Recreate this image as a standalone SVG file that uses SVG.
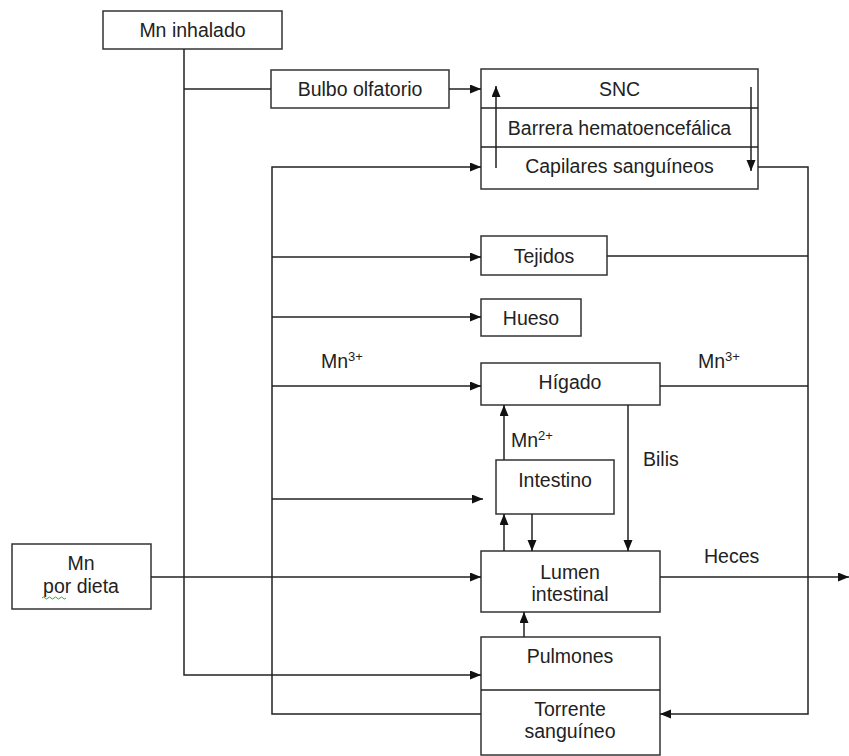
<svg xmlns="http://www.w3.org/2000/svg" width="849" height="756" viewBox="0 0 849 756">
<defs>
<marker id="ah" markerUnits="userSpaceOnUse" markerWidth="12" markerHeight="10" refX="11" refY="4.5" orient="auto">
<path d="M0,0 L11,4.5 L0,9 z" fill="#111"/>
</marker>
<style>
.box{fill:#fff;stroke:#333;stroke-width:1.5}
.ln{fill:none;stroke:#222;stroke-width:1.5}
.ar{fill:none;stroke:#222;stroke-width:1.5;marker-end:url(#ah)}
text{font-family:"Liberation Sans",Arial,sans-serif;font-size:19.5px;fill:#222}
.c{text-anchor:middle}
.sup{font-size:13px}
</style>
</defs>
<rect width="849" height="756" fill="#fff"/>
<g id="mn-inhalado"><rect class="box" x="103" y="11" width="179" height="38"/><text class="c" x="192.5" y="37">Mn inhalado</text></g>
<g id="bulbo"><rect class="box" x="271" y="70" width="178" height="38"/><text class="c" x="360" y="96">Bulbo olfatorio</text></g>
<g id="snc"><rect class="box" x="481" y="69" width="277" height="120"/><path class="ln" d="M481 108 H758 M481 147 H758"/>
<text class="c" x="619.5" y="96">SNC</text><text class="c" x="619.5" y="135">Barrera hematoencefálica</text><text class="c" x="619.5" y="173">Capilares sanguíneos</text></g>
<g id="tejidos"><rect class="box" x="481" y="236" width="126" height="39"/><text class="c" x="544" y="263">Tejidos</text></g>
<g id="hueso"><rect class="box" x="481" y="299" width="100" height="37"/><text class="c" x="531" y="325">Hueso</text></g>
<g id="higado"><rect class="box" x="481" y="363" width="179" height="42"/><text class="c" x="570" y="389">Hígado</text></g>
<g id="intestino"><rect class="box" x="496" y="460" width="118" height="54"/><text class="c" x="555" y="487">Intestino</text></g>
<g id="lumen"><rect class="box" x="481" y="551" width="179" height="61"/><text class="c" x="570" y="579">Lumen</text><text class="c" x="570" y="601">intestinal</text></g>
<g id="dieta"><rect class="box" x="12" y="544" width="139" height="65"/><text class="c" x="81" y="570">Mn</text><text class="c" x="81" y="593">por dieta</text>
<path d="M42 598 q1.5 -2 3 0 t3 0 t3 0 t3 0 t3 0 t3 0 t3 0 t3 0" fill="none" stroke="#3a3" stroke-width="1"/></g>
<g id="pulmones"><rect class="box" x="481" y="637" width="179" height="118"/><path class="ln" d="M481 690 H660"/>
<text class="c" x="570" y="663">Pulmones</text><text class="c" x="570" y="716">Torrente</text><text class="c" x="570" y="738">sanguíneo</text></g>
<g id="labels">
<text x="321" y="368">Mn<tspan class="sup" dy="-7">3+</tspan></text>
<text x="698" y="368">Mn<tspan class="sup" dy="-7">3+</tspan></text>
<text x="511" y="447">Mn<tspan class="sup" dy="-7">2+</tspan></text>
<text x="643" y="466">Bilis</text>
<text x="704" y="563">Heces</text>
</g>
<g id="connectors">
<path class="ar" d="M184 49 V675 H481"/>
<path class="ln" d="M184 89 H271"/>
<path class="ar" d="M449 89 H481"/>
<path class="ar" d="M481 714 H272 V167 H481"/>
<path class="ar" d="M272 257 H481"/>
<path class="ar" d="M272 317 H481"/>
<path class="ar" d="M272 386 H481"/>
<path class="ar" d="M272 499 H483"/>
<path class="ar" d="M496 168 V86"/>
<path class="ar" d="M751 87 V171"/>
<path class="ar" d="M758 167 H808 V714 H660"/>
<path class="ln" d="M607 256 H808"/>
<path class="ln" d="M660 386 H808"/>
<path class="ar" d="M504 460 V405"/>
<path class="ar" d="M628 405 V551"/>
<path class="ar" d="M504 551 V514"/>
<path class="ar" d="M532 514 V551"/>
<path class="ar" d="M151 577 H481"/>
<path class="ar" d="M660 577 H849"/>
<path class="ar" d="M524 637 V612"/>
</g>
</svg>
